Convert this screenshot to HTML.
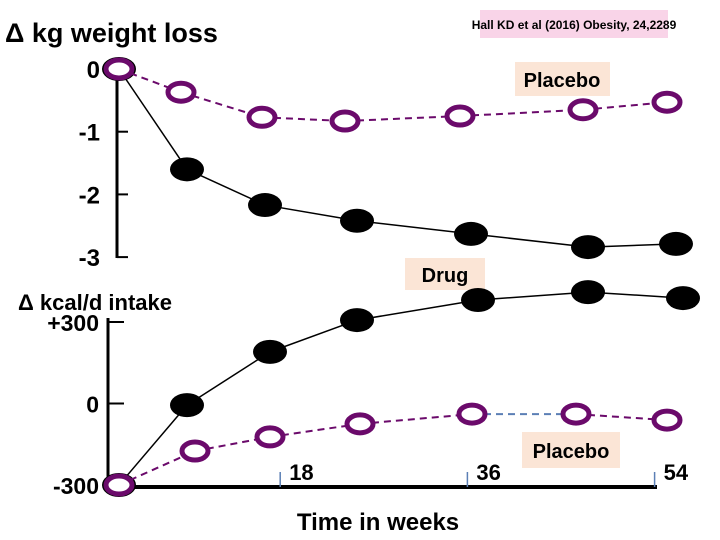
<!DOCTYPE html>
<html><head><meta charset="utf-8"><style>
body{margin:0;background:#fff}
svg{display:block;font-family:"Liberation Sans",sans-serif;font-weight:bold}
</style></head><body>
<svg width="720" height="540" viewBox="0 0 720 540" id="c">
<rect x="480" y="10" width="188" height="28" fill="#f9d4e8"/>
<text x="574" y="29" font-size="12" text-anchor="middle">Hall KD et al (2016) Obesity, 24,2289</text>
<text x="5" y="42" font-size="27">Δ kg weight loss</text>
<text x="18" y="310" font-size="22">Δ kcal/d intake</text>
<text x="378" y="530" font-size="24" text-anchor="middle">Time in weeks</text>
<rect x="515" y="62" width="95" height="34" fill="#fbe5d6"/>
<text x="562" y="87" font-size="20" text-anchor="middle">Placebo</text>
<rect x="405" y="258" width="80" height="32" fill="#fbe5d6"/>
<text x="445" y="282" font-size="20" text-anchor="middle">Drug</text>
<rect x="522" y="432" width="98" height="36" fill="#fbe5d6"/>
<text x="571" y="458" font-size="20" text-anchor="middle">Placebo</text>
<g id="g"></g>
</svg>
<script>
const topTicks=[0,-1,-2,-3];
const topTickLabels=["0","-1","-2","-3"];
const topPlaceboT=[0,6.2,14.3,22.6,34.1,46.4,54.8];
const topPlaceboV=[0,-0.37,-0.77,-0.83,-0.75,-0.65,-0.53];
const topDrugT=[0,6.8,14.6,23.8,35.2,46.9,55.7];
const topDrugV=[0,-1.6,-2.17,-2.42,-2.63,-2.84,-2.79];
const botTicks=[300,0,-300];
const botTickLabels=["+300","0","-300"];
const botDrugT=[0,6.8,15.1,23.8,35.9,46.9,56.4];
const botDrugV=[-300,-6,190,307,381,410,388];
const botPlaceboT=[0,7.6,15.1,24.1,35.3,45.7,54.8];
const botPlaceboV=[-300,-175,-123,-75,-39,-39,-61];
const xTicks=[18,36,54];
const xTickLabels=["18","36","54"];
const NS="http://www.w3.org/2000/svg";
const g=document.getElementById('g');
const X=t=>119+10*t;
const XT=t=>93+10.4*t;
const YT=v=>69-62.7*v;
const YB=v=>403.5-0.2717*v;
function el(tag,a,p){const e=document.createElementNS(NS,tag);for(const k in a)e.setAttribute(k,a[k]);(p||g).appendChild(e);return e;}
let a=el('line',{x1:117,y1:67,x2:117,y2:258,stroke:'#000','stroke-width':3});


a=el('line',{x1:108,y1:318,x2:108,y2:488,stroke:'#000','stroke-width':3});


a=el('line',{x1:106,y1:487,x2:657,y2:487,stroke:'#000','stroke-width':4});


topTicks.forEach((v,i)=>{
 let t=el('line',{x1:117,x2:128,y1:YT(v),y2:YT(v),stroke:'#000','stroke-width':2});
 
 
 let l=el('text',{x:100,y:YT(v)+9,'font-size':24,'text-anchor':'end'});l.textContent=topTickLabels[i];
 
 
});
botTicks.forEach((v,i)=>{
 let t=el('line',{x1:108,x2:124,y1:YB(v),y2:YB(v),stroke:'#000','stroke-width':2});
 
 
 let l=el('text',{x:99,y:YB(v)+9,'font-size':23,'text-anchor':'end'});l.textContent=botTickLabels[i];
 
 
});
xTicks.forEach((v,i)=>{
 let t=el('line',{x1:XT(v),x2:XT(v),y1:472,y2:487,stroke:'#5b7fb5','stroke-width':1.5});
 
 
 let l=el('text',{x:XT(v)+9,y:480,'font-size':22});l.textContent=xTickLabels[i];
 
 
});
function series(T,V,Y,filled,name){
 for(let i=0;i<T.length-1;i++){
  let blue=!filled&&name==='bottom-placebo'&&i===4;
  let s=el('line',{x1:X(T[i]),y1:Y(V[i]),x2:X(T[i+1]),y2:Y(V[i+1]),stroke:filled?'#000':(blue?'#5b7fb5':'#6b0a6b'),'stroke-width':filled?1.5:2,'stroke-dasharray':filled?'none':'7,5'});
  
  
 }
 T.forEach((t,i)=>{
  let m=filled?el('ellipse',{cx:X(t),cy:Y(V[i]),rx:17,ry:12,fill:'#000'}):el('ellipse',{cx:X(t),cy:Y(V[i]),rx:13,ry:9,fill:'#fff',stroke:'#6b0a6b','stroke-width':5});
  
  
 });
}
series(topDrugT,topDrugV,YT,true,'top-drug');
series(topPlaceboT,topPlaceboV,YT,false,'top-placebo');
series(botDrugT,botDrugV,YB,true,'bottom-drug');
series(botPlaceboT,botPlaceboV,YB,false,'bottom-placebo');
</script>
</body></html>
